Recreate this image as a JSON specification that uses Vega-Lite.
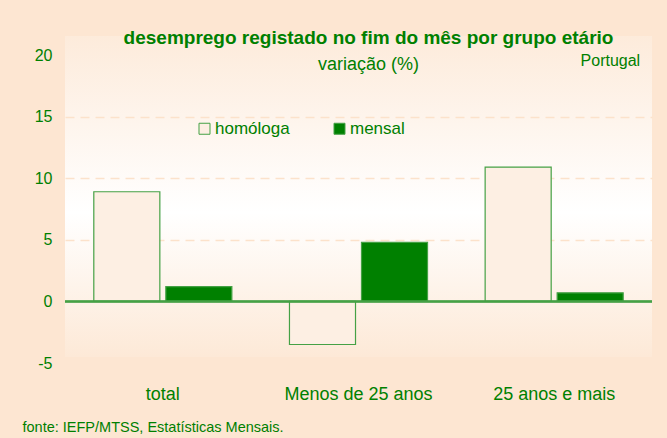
{
  "$schema": "https://vega.github.io/schema/vega-lite/v6.json",
  "width": 587,
  "height": 321,
  "autosize": "none",
  "padding": {"left": 65, "top": 36, "right": 15, "bottom": 81},
  "background": "#fde6d2",
  "view": {
    "stroke": null,
    "fill": {
      "gradient": "linear",
      "x1": 0, "y1": 0, "x2": 0, "y2": 1,
      "stops": [
        {"offset": 0, "color": "#fdebdb"},
        {"offset": 0.55, "color": "#ffffff"},
        {"offset": 1, "color": "#fde9d7"}
      ]
    }
  },
  "config": {"font": "Liberation Sans"},
  "title": {
    "text": "desemprego registado no fim do mês por grupo etário",
    "subtitle": "variação (%)",
    "font": "Liberation Sans",
    "subtitleFont": "Liberation Sans",
    "fontSize": 19,
    "fontWeight": "bold",
    "color": "#008000",
    "subtitleColor": "#008000",
    "subtitleFontSize": 18,
    "subtitlePadding": 8,
    "anchor": "middle",
    "frame": "group",
    "dx": 10,
    "offset": -38
  },
  "data": {
    "values": [
      {"grupo": "total", "serie": "homóloga", "valor": 8.9},
      {"grupo": "total", "serie": "mensal", "valor": 1.2},
      {"grupo": "Menos de 25 anos", "serie": "homóloga", "valor": -3.5},
      {"grupo": "Menos de 25 anos", "serie": "mensal", "valor": 4.8},
      {"grupo": "25 anos e mais", "serie": "homóloga", "valor": 10.9},
      {"grupo": "25 anos e mais", "serie": "mensal", "valor": 0.7}
    ]
  },
  "layer": [
    {
      "mark": {"type": "bar", "stroke": "#45a145", "strokeWidth": 1.2},
      "encoding": {
        "x": {
          "field": "grupo",
          "type": "nominal",
          "sort": ["total", "Menos de 25 anos", "25 anos e mais"],
          "scale": {"paddingInner": 0, "paddingOuter": 0},
          "axis": {
            "domain": false,
            "ticks": false,
            "labelAngle": 0,
            "labelPadding": 28,
            "labelFontSize": 18,
            "labelColor": "#008000",
            "title": "fonte: IEFP/MTSS, Estatísticas Mensais.",
            "titleFontSize": 14.5,
            "titleFontWeight": "normal",
            "titleColor": "#008000",
            "titleAnchor": "start",
            "titleAlign": "left",
            "titleX": -43,
            "titleY": 70,
            "titleBaseline": "middle"
          }
        },
        "xOffset": {
          "field": "serie",
          "type": "nominal",
          "sort": ["homóloga", "mensal"],
          "scale": {"paddingInner": 0.083, "paddingOuter": 0.4}
        },
        "y": {
          "field": "valor",
          "type": "quantitative",
          "scale": {"domain": [-5, 20], "range": [327, 19], "nice": false, "zero": false},
          "axis": {
            "values": [-5, 0, 5, 10, 15, 20],
            "labelExpr": "datum.value < 0 ? '-' + abs(datum.value) : '' + datum.value",
            "domain": false,
            "ticks": false,
            "labelPadding": 13,
            "labelFontSize": 16,
            "labelColor": "#008000",
            "grid": true,
            "gridColor": "#fce2cb",
            "gridDash": [9, 6],
            "gridWidth": 1.5,
            "gridOpacity": {"condition": {"test": "datum.value > 0 && datum.value < 20", "value": 1}, "value": 0},
            "title": null
          }
        },
        "fill": {
          "field": "serie",
          "type": "nominal",
          "sort": ["homóloga", "mensal"],
          "scale": {"domain": ["homóloga", "mensal"], "range": ["#fdefe3", "#008000"]},
          "legend": {
            "orient": "none",
            "legendX": 131,
            "legendY": 84,
            "direction": "horizontal",
            "title": null,
            "symbolType": "square",
            "symbolSize": 121,
            "symbolStrokeColor": "#45a145",
            "symbolStrokeWidth": 1,
            "labelFontSize": 17,
            "labelColor": "#008000",
            "labelOffset": 2,
            "columnPadding": 41
          }
        }
      }
    },
    {
      "mark": {"type": "rule", "color": "#45a145", "strokeWidth": 1.5},
      "encoding": {"y": {"datum": 0, "type": "quantitative"}}
    },
    {
      "data": {"values": [{"label": "Portugal"}]},
      "mark": {"type": "text", "align": "right", "baseline": "middle", "dx": 86, "fontSize": 16, "color": "#008000"},
      "encoding": {
        "x": {"datum": "25 anos e mais", "type": "nominal"},
        "y": {"datum": 19.5, "type": "quantitative"},
        "text": {"field": "label"}
      }
    }
  ]
}
